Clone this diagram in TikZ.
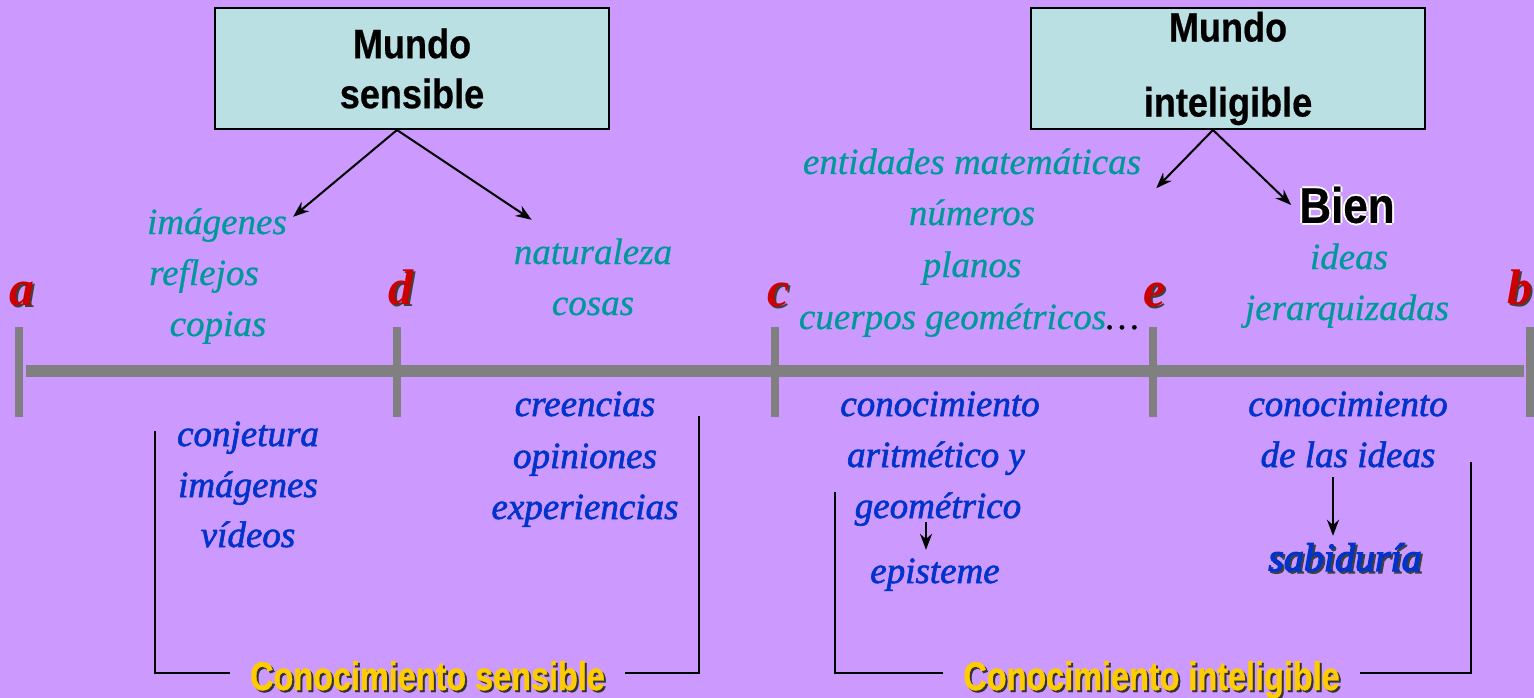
\documentclass[tikz,border=0pt]{standalone}
\usepackage{fontspec}
\usetikzlibrary{arrows.meta}
\newfontfamily\narrowsans[FakeStretch=0.88,FakeBold=0.5]{Liberation Sans}
\newfontfamily\labelsans[FakeStretch=0.81,FakeBold=1]{Liberation Sans}
\newfontfamily\letterserif{Liberation Serif}
\newfontfamily\textserif[FakeBold=0.6]{Liberation Serif}
\newfontfamily\boldserif[FakeBold=1.6]{Liberation Serif}
\newfontfamily\heavyserif[FakeBold=3]{Liberation Serif}
\definecolor{fondo}{HTML}{CC99FF}
\definecolor{cajacian}{HTML}{BBE0E3}
\definecolor{verdeazul}{HTML}{009999}
\definecolor{azultexto}{HTML}{0033CC}
\definecolor{rojoletra}{HTML}{CC0000}
\definecolor{amarillo}{HTML}{FFCC00}
\definecolor{gris}{HTML}{808080}
\newcommand\sombra[3]{\rlap{\kern2pt\raisebox{-2pt}{\color{#2}#3}}{\color{#1}#3}}
\newcommand\brillo[1]{\rlap{\kern-2pt\color{white}#1}\rlap{\kern2pt\color{white}#1}\rlap{\raisebox{2pt}{\color{white}#1}}\rlap{\raisebox{-2pt}{\color{white}#1}}#1}

\begin{document}
\begin{tikzpicture}[x=1pt,y=-1pt,>={Stealth[length=16pt,width=12pt]},
    caja/.style={draw=black,line width=2pt,fill=cajacian,minimum width=394pt,minimum height=121pt,align=center,font=\narrowsans\bfseries\fontsize{41}{50}\selectfont},
    verde/.style={inner sep=0pt,text height=24pt,text depth=4pt,text=verdeazul,font=\textserif\itshape\fontsize{37}{42}\selectfont},
    azul/.style={inner sep=0pt,text height=24pt,text depth=4pt,text=azultexto,font=\boldserif\itshape\fontsize{37}{42}\selectfont},
    letra/.style={inner sep=0pt,text height=23pt,text depth=0pt,font=\letterserif\bfseries\itshape\fontsize{50}{54}\selectfont},
    rotulo/.style={inner xsep=20pt,inner ysep=0pt,text height=34pt,text depth=0pt,font=\labelsans\bfseries\fontsize{40}{44}\selectfont},
    flecha/.style={->,line width=2pt},
    marca/.style={draw=gris,line width=8pt},
    corchete/.style={draw=black,line width=2.5pt}]
  \fill[fondo] (0,0) rectangle (1534,698);
  \useasboundingbox (0,0) rectangle (1534,698);

  % recta a-d-c-e-b
  \draw[gris,line width=12pt] (26,371) -- (1524,371);
  \foreach \x in {19,397,775,1153,1530}
    \draw[marca] (\x,327) -- (\x,417);
  \node[letra] (a) at (22,294) {\sombra{rojoletra}{black!75}{a}};
  \node[letra] (d) at (401,293) {\sombra{rojoletra}{black!75}{d}};
  \node[letra] (c) at (779,295) {\sombra{rojoletra}{black!75}{c}};
  \node[letra] (e) at (1155,295) {\sombra{rojoletra}{black!75}{e}};
  \node[letra] (b) at (1520,293) {\sombra{rojoletra}{black!75}{b}};

  \node[caja] (1) at (412,68.5) {Mundo\\sensible};
  \node[caja] (2) at (1228,68.5) {Mundo\\[25pt]inteligible};

  \node[verde] (5) at (217,224) {imágenes};
  \node[verde] (6) at (204,275) {reflejos};
  \node[verde] (7) at (218,326) {copias};
  \node[verde] (8) at (593,254) {naturaleza};
  \node[verde] (9) at (593,305) {cosas};
  \node[verde] (10) at (972,164) {entidades matemáticas};
  \node[verde] (11) at (972,215) {números};
  \node[verde] (12) at (972,267) {planos};
  \node[verde] (13) at (969,319) {cuerpos geométricos{\color{black}\ldots}};
  \node[inner sep=0pt,font=\narrowsans\bfseries\fontsize{50}{56}\selectfont] (16) at (1347,205) {\brillo{Bien}};
  \node[verde] (14) at (1349,259) {ideas};
  \node[verde] (15) at (1347,310) {jerarquizadas};

  \node[azul] (17) at (248,436) {conjetura};
  \node[azul] (18) at (248,487) {imágenes};
  \node[azul] (19) at (248,537) {vídeos};
  \node[azul] (20) at (585,406) {creencias};
  \node[azul] (21) at (585,458) {opiniones};
  \node[azul] (22) at (585,509) {experiencias};
  \node[azul] (23) at (940,406) {conocimiento};
  \node[azul] (24) at (936,457) {aritmético y};
  \node[azul] (25) at (938,508) {geométrico};
  \node[azul] (26) at (935,573) {episteme};
  \node[azul] (27) at (1348,406) {conocimiento};
  \node[azul] (28) at (1348,457) {de las ideas};
  \node[azul,font=\heavyserif\itshape\fontsize{40}{46}\selectfont] (29) at (1345,561) {\sombra{azultexto}{black!75}{sabiduría}};

  \path[flecha]
    ([xshift=-15pt]1.south) edge ([xshift=6pt,yshift=-7pt]5.north east)
    ([xshift=-15pt]1.south) edge ([xshift=18pt,yshift=20pt]8.north west)
    ([xshift=-15pt]2.south) edge ([xshift=15pt,yshift=-10pt]10.south east)
    ([xshift=-15pt]2.south) edge ([xshift=-8pt]16.west)
    ([xshift=-12pt]25.south) edge ([xshift=-12pt,yshift=9pt]25.south |- 26.north)
    ([xshift=-15pt,yshift=-6pt]28.south) edge ([xshift=-15pt,yshift=11pt]28.south |- 29.north);

  % corchetes de conocimiento
  \node[rotulo] (30) at (427.5,673) {\sombra{amarillo}{black!80}{Conocimiento sensible}};
  \node[rotulo] (31) at (1151.5,673) {\sombra{amarillo}{black!80}{Conocimiento inteligible}};
  \coordinate (32) at (155,431);
  \coordinate (33) at (699,416);
  \coordinate (34) at (835,492);
  \coordinate (35) at (1471,462);
  \draw[corchete] (30.west) -| (32);
  \draw[corchete] (30.east) -| (33);
  \draw[corchete] (31.west) -| (34);
  \draw[corchete] (31.east) -| (35);
\end{tikzpicture}
\end{document}
